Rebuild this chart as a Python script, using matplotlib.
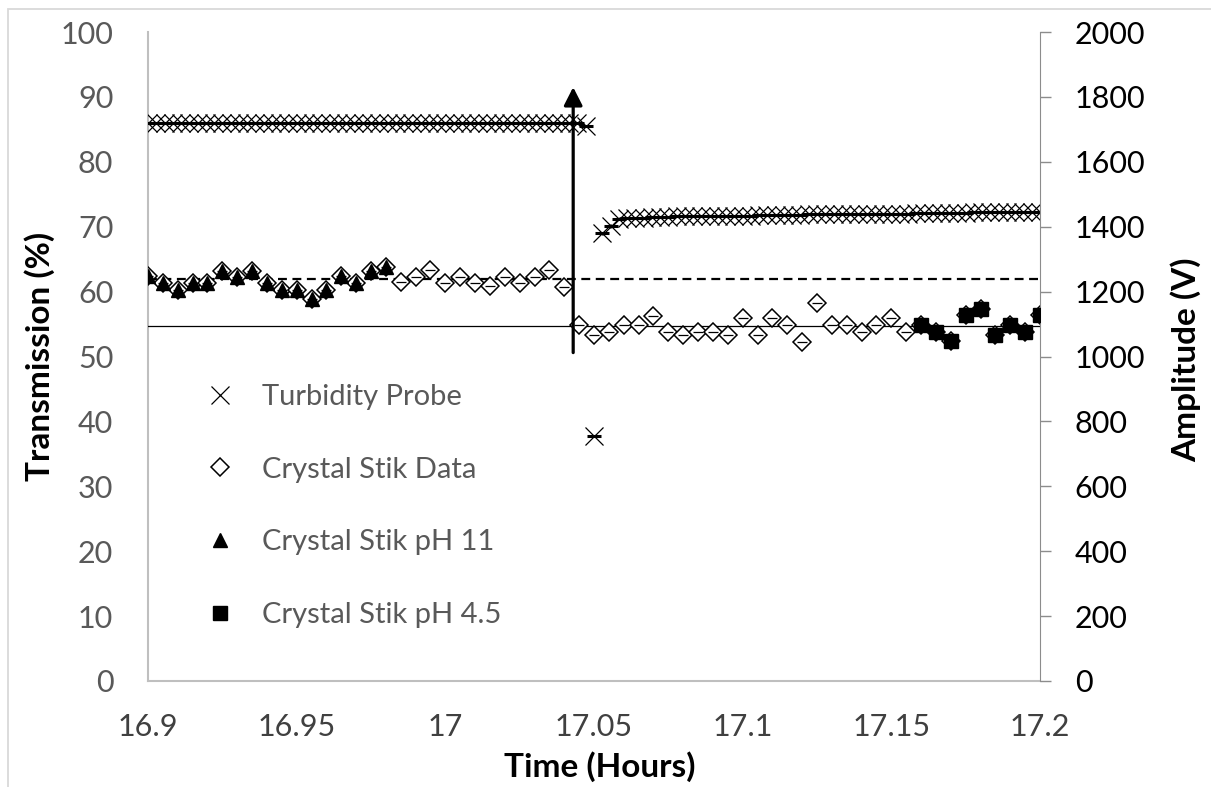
import matplotlib
matplotlib.use('Agg')
import matplotlib.pyplot as plt
from matplotlib.lines import Line2D
from matplotlib.patches import Rectangle

plt.rcParams['font.family'] = ['Lato', 'DejaVu Sans']

# turbidity probe, logged every 10 s starting at 16.9 h
turb_seconds = [
    0, 10, 20, 30, 40, 50, 60, 70, 80, 90, 100, 110,
    120, 130, 140, 150, 160, 170, 180, 190, 200, 210, 220, 230,
    240, 250, 260, 270, 280, 290, 300, 310, 320, 330, 340, 350,
    360, 370, 380, 390, 400, 410, 420, 430, 440, 450, 460, 470,
    480, 490, 500, 510, 520, 530, 540, 550, 560, 570, 580, 590,
    600, 610, 620, 630, 640, 650, 660, 670, 680, 690, 700, 710,
    720, 730, 740, 750, 760, 770, 780, 790, 800, 810, 820, 830,
    840, 850, 860, 870, 880, 890, 900, 910, 920, 930, 940, 950,
    960, 970, 980, 990, 1000, 1010, 1020, 1030, 1040, 1050, 1060, 1070,
    1080,
]
turb_transmission = [
    86.0, 86.0, 86.0, 86.0, 86.0, 86.0, 86.0, 86.0, 86.0, 86.0,
    86.0, 86.0, 86.0, 86.0, 86.0, 86.0, 86.0, 86.0, 86.0, 86.0,
    86.0, 86.0, 86.0, 86.0, 86.0, 86.0, 86.0, 86.0, 86.0, 86.0,
    86.0, 86.0, 86.0, 86.0, 86.0, 86.0, 86.0, 86.0, 86.0, 86.0,
    86.0, 86.0, 86.0, 86.0, 86.0, 86.0, 86.0, 86.0, 86.0, 86.0,
    86.0, 86.0, 86.0, 85.5, 37.7, 69.0, 70.1, 71.2, 71.3, 71.4,
    71.4, 71.5, 71.5, 71.5, 71.6, 71.6, 71.6, 71.6, 71.6, 71.7,
    71.7, 71.7, 71.7, 71.7, 71.8, 71.8, 71.8, 71.8, 71.8, 71.8,
    71.9, 71.9, 71.9, 71.9, 71.9, 71.9, 72.0, 72.0, 72.0, 72.0,
    72.0, 72.0, 72.0, 72.1, 72.1, 72.1, 72.1, 72.1, 72.1, 72.1,
    72.2, 72.2, 72.2, 72.2, 72.2, 72.3, 72.3, 72.3, 72.3,
]

# crystal stik amplitude (V)
crystal_time = [
    16.900, 16.905, 16.910, 16.915, 16.920, 16.925, 16.930, 16.935, 16.940, 16.945,
    16.950, 16.955, 16.960, 16.965, 16.970, 16.975, 16.980, 16.985, 16.990, 16.995,
    17.000, 17.005, 17.010, 17.015, 17.020, 17.025, 17.030, 17.035, 17.040, 17.045,
    17.050, 17.055, 17.060, 17.065, 17.070, 17.075, 17.080, 17.085, 17.090, 17.095,
    17.100, 17.105, 17.110, 17.115, 17.120, 17.125, 17.130, 17.135, 17.140, 17.145,
    17.150, 17.155, 17.160, 17.165, 17.170, 17.175, 17.180, 17.185, 17.190, 17.195,
    17.200,
]
crystal_amp = [
    1248, 1228, 1204, 1228, 1228, 1264, 1246, 1264, 1228, 1204,
    1204, 1176, 1204, 1248, 1228, 1264, 1276, 1230, 1246, 1268,
    1226, 1246, 1226, 1216, 1246, 1226, 1246, 1266, 1214, 1098,
    1066, 1076, 1098, 1098, 1126, 1076, 1066, 1076, 1076, 1066,
    1118, 1066, 1118, 1096, 1046, 1164, 1096, 1096, 1076, 1096,
    1118, 1074, 1096, 1076, 1048, 1128, 1146, 1066, 1096, 1076,
    1128,
]
ph11_time = [16.900, 16.905, 16.910, 16.915, 16.920, 16.925, 16.930, 16.935, 16.940,
             16.945, 16.950, 16.955, 16.960, 16.965, 16.970, 16.975, 16.980]
ph11_amp = [1248, 1228, 1204, 1228, 1228, 1264, 1246, 1264, 1228,
            1204, 1204, 1176, 1204, 1248, 1228, 1264, 1276]
ph45_time = [17.160, 17.165, 17.170, 17.175, 17.180, 17.185, 17.190, 17.195, 17.200]
ph45_amp = [1096, 1076, 1048, 1128, 1146, 1066, 1096, 1076, 1128]

mean_before = 1240
mean_after = 1094
addition_time = 17.043

xticks = [16.9, 16.95, 17.0, 17.05, 17.1, 17.15, 17.2]
xticklabels = ['16.9', '16.95', '17', '17.05', '17.1', '17.15', '17.2']

W, H = 1211, 787
fig = plt.figure(figsize=(W / 100, H / 100), dpi=100)
ax = fig.add_axes([148 / W, 1 - 681 / H, 892 / W, 649 / H])
ax2 = ax.twinx()

t_turb = [16.9 + s / 3600 for s in turb_seconds]
ax.plot(t_turb, turb_transmission, ls='none', marker='x', ms=13.5, mew=0.9,
        color='black', zorder=3)
ax.plot(t_turb, turb_transmission, ls='none', marker='_', ms=10, mew=2.2,
        color='black', zorder=3)

ax2.axhline(mean_before, color='black', lw=1.6, ls=(0, (4, 2.5)), zorder=1)
ax2.axhline(mean_after, color='black', lw=0.9, zorder=1)
ax2.plot(crystal_time, crystal_amp, ls='none', marker='D', ms=9, mfc='white',
         mec='black', mew=1.1, zorder=2)
ax2.plot(crystal_time, crystal_amp, ls='none', marker='_', ms=7, mew=0.9,
         color='black', zorder=2)
ax2.plot(ph11_time, ph11_amp, ls='none', marker='^', ms=10.5, color='black', zorder=3)
ax2.plot(ph45_time, ph45_amp, ls='none', marker='s', ms=10.5, color='black', zorder=3)

ax2.annotate('', xy=(addition_time, 1830), xytext=(addition_time, 1012),
             arrowprops=dict(arrowstyle='-|>,head_length=0.55,head_width=0.28',
                             lw=2.3, color='black', mutation_scale=20,
                             shrinkA=0, shrinkB=0), zorder=5)

ax.set_xlim(16.9, 17.2)
ax.set_ylim(0, 100)
ax2.set_ylim(0, 2000)
ax.set_xticks(xticks)
ax.set_xticklabels(xticklabels)
ax.set_yticks(range(0, 101, 10))
ax2.set_yticks(range(0, 2001, 200))

ax.tick_params(axis='y', length=0, labelsize=22, labelcolor='#595959', pad=25)
ax.tick_params(axis='x', length=0, labelsize=22, labelcolor='#404040', pad=23)
ax2.tick_params(axis='y', length=8, width=1, color='#8c8c8c', labelsize=22,
                labelcolor='black', pad=17)

for s in ('top', 'right'):
    ax.spines[s].set_visible(False)
for s in ('left', 'bottom'):
    ax.spines[s].set_color('#bfbfbf')
    ax.spines[s].set_linewidth(1.5)
for s in ('top', 'left', 'bottom'):
    ax2.spines[s].set_visible(False)
ax2.spines['right'].set_color('#8c8c8c')

fig.text(40 / W, 1 - 356 / H, 'Transmission (%)', rotation=90, ha='center',
         va='center', fontsize=24, fontweight='bold')
fig.text(1186 / W, 1 - 360 / H, 'Amplitude (V)', rotation=90, ha='center',
         va='center', fontsize=24, fontweight='bold')
fig.text(600 / W, 1 - 767 / H, 'Time (Hours)', ha='center', va='center',
         fontsize=24, fontweight='bold')

handles = [
    Line2D([], [], ls='none', marker='x', ms=13.5, mew=0.9, color='black'),
    Line2D([], [], ls='none', marker='D', ms=9, mfc='white', mec='black', mew=1.1),
    Line2D([], [], ls='none', marker='^', ms=10.5, color='black'),
    Line2D([], [], ls='none', marker='s', ms=10.5, color='black'),
]
labels = ['Turbidity Probe', 'Crystal Stik Data', 'Crystal Stik pH 11',
          'Crystal Stik pH 4.5']
ax2.legend(handles, labels, loc='upper left', bbox_to_anchor=(202.5 / W, 1 - 384 / H),
           bbox_transform=fig.transFigure, frameon=False, fontsize=21,
           labelcolor='#595959', handlelength=1.2, handletextpad=0.84,
           labelspacing=1.6, borderpad=0, borderaxespad=0)

fig.add_artist(Rectangle((8 / W, -0.1), 1.2, 1 - 9 / H + 0.1, transform=fig.transFigure,
                         fill=False, edgecolor='#d9d9d9', lw=1.3))

fig.savefig('out.png', dpi=100)
